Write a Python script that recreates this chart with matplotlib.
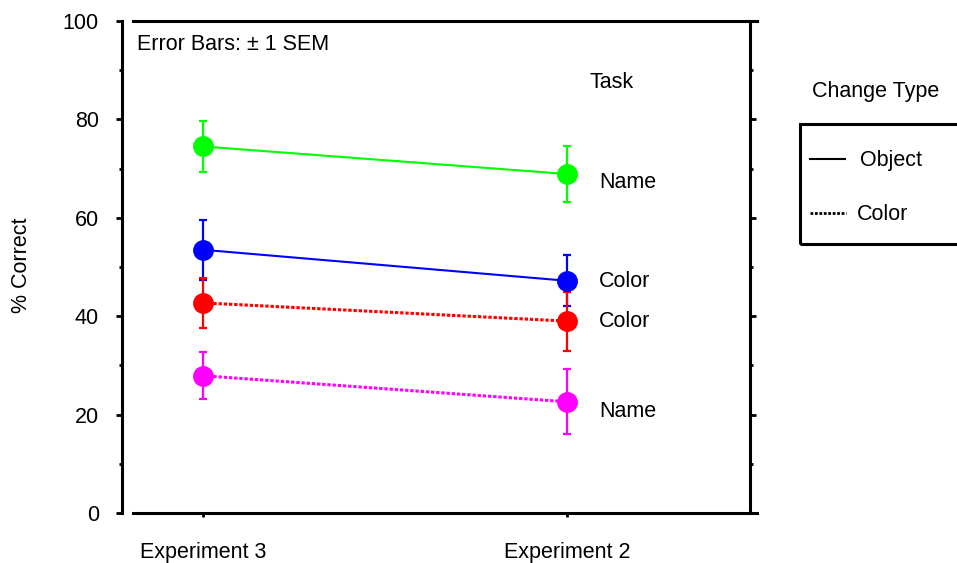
import matplotlib
matplotlib.use("Agg")
import matplotlib.pyplot as plt
from matplotlib.lines import Line2D
from matplotlib.patches import Rectangle
from matplotlib.ticker import MultipleLocator

plt.rcParams['font.family'] = ['Liberation Sans', 'DejaVu Sans']

experiments = ["Experiment 3", "Experiment 2"]
series_names = ["Object-Name", "Object-Color", "Color-Color", "Color-Name"]
task_labels = ["Name", "Color", "Color", "Name"]
means = {
    "Object-Name": [74.5, 68.9],
    "Object-Color": [53.5, 47.2],
    "Color-Color": [42.7, 39.0],
    "Color-Name": [27.9, 22.6],
}
sems = {
    "Object-Name": [5.1, 5.6],
    "Object-Color": [6.1, 5.2],
    "Color-Color": [5.0, 6.0],
    "Color-Name": [4.8, 6.6],
}
colors = ["#00FF00", "#0000FF", "#FF0000", "#FF00FF"]
change_types = ["Object", "Object", "Color", "Color"]
label_y = [67.2, 47.0, 39.0, 20.7]

FS = 15.5
W, H = 957, 563
fig = plt.figure(figsize=(W / 100, H / 100), dpi=100)
ax = fig.add_axes([133 / W, 50 / H, 624 / W, 492 / H])

xpos = list(range(len(experiments)))
dotted = (0, (1.1, 0.6))
for name, col, ct in zip(series_names, colors, change_types):
    ls = '-' if ct == "Object" else dotted
    lw = 1.5 if ct == "Object" else 2.2
    ax.errorbar(xpos, means[name], yerr=sems[name], color=col, ecolor=col,
                elinewidth=1.6, capsize=3.2, capthick=1.6, marker='o',
                markersize=14, linestyle=ls, linewidth=lw, clip_on=False)

for lab, yv in zip(task_labels, label_y):
    ax.text(1 + 32 / 364, yv, lab, fontsize=FS, va='center', ha='left')

ax.set_xlim(-70 / 364, 1 + 190 / 364)
ax.set_ylim(0, 100)

for s in ['left', 'right', 'top', 'bottom']:
    ax.spines[s].set_linewidth(2.2)
ax.spines['left'].set_position(('outward', 8))
ax.spines['right'].set_position(('data', 1 + 183 / 364))

ax.yaxis.set_major_locator(MultipleLocator(20))
ax.yaxis.set_minor_locator(MultipleLocator(10))
ax.tick_params(axis='y', which='both', left=True, right=True, direction='out', width=2)
ax.tick_params(axis='y', which='major', length=4.5, labelsize=FS, pad=12)
ax.tick_params(axis='y', which='minor', length=2.5)

ax.set_xticks(xpos)
ax.set_xticklabels(experiments)
ax.tick_params(axis='x', which='major', direction='out', length=3, width=2,
               labelsize=FS, pad=18)

fig.text(137 / W, (H - 45) / H, "Error Bars: \u00b1 1 SEM",
         fontsize=FS, va='center', ha='left')
fig.text(612 / W, (H - 82) / H, "Task", fontsize=FS, va='center', ha='center')
fig.text(22 / W, (H - 265) / H, "% Correct", fontsize=FS, rotation=90,
         va='center', ha='center')

# Change Type key
fig.text(876 / W, (H - 92) / H, "Change Type", fontsize=FS, va='center', ha='center')
fig.patches.append(Rectangle((800 / W, (H - 244) / H), 200 / W, 120 / H,
                             transform=fig.transFigure, fill=False,
                             edgecolor='black', linewidth=2.2))
fig.lines.append(Line2D([810 / W, 845 / W], [(H - 159) / H] * 2,
                        transform=fig.transFigure, color='black', linewidth=1.5))
fig.text(860 / W, (H - 161) / H, "Object", fontsize=FS, va='center', ha='left')
fig.lines.append(Line2D([810 / W, 846 / W], [(H - 213) / H] * 2,
                        transform=fig.transFigure, color='black', linewidth=2.0,
                        linestyle=(0, (1, 0.6))))
fig.text(857 / W, (H - 215) / H, "Color", fontsize=FS, va='center', ha='left')

fig.savefig("out.png", dpi=100)
